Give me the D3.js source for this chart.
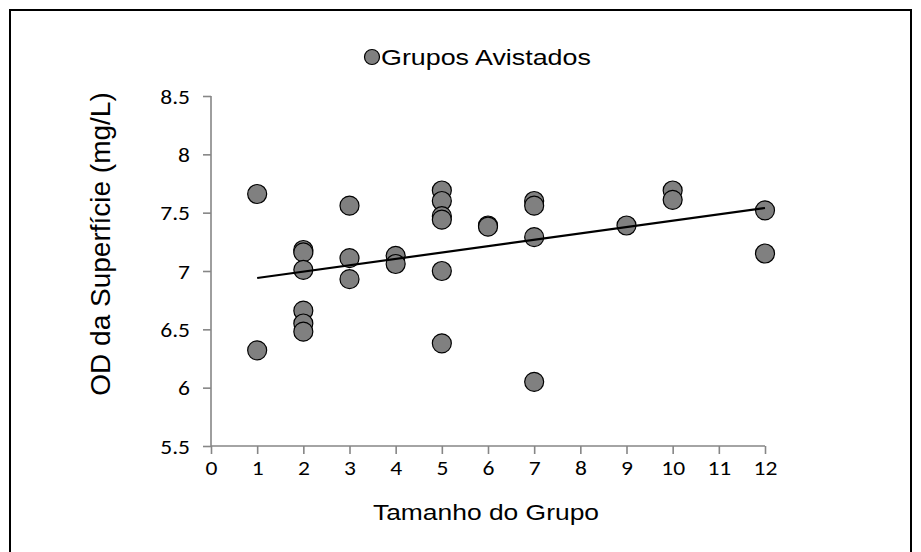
<!DOCTYPE html>
<html>
<head>
<meta charset="utf-8">
<script src="https://cdn.jsdelivr.net/npm/d3@7"></script>
<style>
  html, body { margin: 0; padding: 0; background: #fff; }
  svg { display: block; }
</style>
</head>
<body>
<div id="chart"></div>
<script>
// group size (x) and surface dissolved oxygen (y)
const groupSize = [1, 1, 2, 2, 2, 2, 2, 2, 3, 3, 3, 4, 4, 5, 5, 5, 5, 5, 5, 6, 6, 7, 7, 7, 7, 9, 10, 10, 12, 12];
const odValues  = [7.66, 6.32, 7.18, 7.16, 7.01, 6.66, 6.55, 6.48, 7.56, 7.11, 6.93, 7.13, 7.06,
                   7.69, 7.60, 7.47, 7.44, 7.00, 6.38, 7.39, 7.38, 7.60, 7.56, 7.29, 6.05, 7.39, 7.69, 7.61, 7.52, 7.15];
// linear trendline endpoints as drawn
const trendX = [1, 12];
const trendY = [6.94, 7.54];
const xTicks = d3.range(0, 13, 1);
const yTicks = [5.5, 6, 6.5, 7, 7.5, 8, 8.5];
const seriesName = "Grupos Avistados";
const xTitle = "Tamanho do Grupo";
const yTitle = "OD da Superfície (mg/L)";

const width = 921, height = 552;
const margin = { left: 211, right: 156, top: 96, bottom: 106 };
const axisColor = "#868686";
const tickFont = "Carlito, Calibri, 'Liberation Sans', Arial, sans-serif";
const titleFont = "'Liberation Sans', Arial, sans-serif";

// the original picture is a bit wider than tall, text looks stretched sideways
function widen(sel, k) {
  sel.each(function () {
    const len = this.getComputedTextLength();
    d3.select(this).attr("textLength", len * k).attr("lengthAdjust", "spacingAndGlyphs");
  });
}

const svg = d3.select("#chart").append("svg")
  .attr("width", width).attr("height", height);

// outer frame
svg.append("rect").attr("x", 10).attr("y", 10).attr("width", 901).attr("height", 560)
  .attr("fill", "none").attr("stroke", "#000").attr("stroke-width", 2);

const x = d3.scaleLinear().domain([0, 12]).range([margin.left, width - margin.right]);
const y = d3.scaleLinear().domain([5.5, 8.5]).range([height - margin.bottom, margin.top]);

// axes
const xAxis = svg.append("g").attr("transform", `translate(0,${y(5.5)})`)
  .call(d3.axisBottom(x).tickValues(xTicks).tickSize(8).tickPadding(6).tickFormat(d3.format("d")));
const yAxis = svg.append("g").attr("transform", `translate(${x(0)},0)`)
  .call(d3.axisLeft(y).tickValues(yTicks).tickSize(8).tickPadding(13).tickFormat(d => d));

[xAxis, yAxis].forEach(g => {
  g.select(".domain").attr("stroke", axisColor).attr("stroke-width", 1.6);
  g.selectAll(".tick line").attr("stroke", axisColor).attr("stroke-width", 1.6);
  g.selectAll(".tick text").attr("fill", "#000").attr("font-size", "21px").attr("font-family", tickFont);
  widen(g.selectAll(".tick text"), 1.12);
});
xAxis.select(".domain").attr("d", `M${x(0)},0H${x(12)}`);
yAxis.select(".domain").attr("d", `M0,${y(8.5)}V${y(5.5)}`);
yAxis.selectAll(".tick text").attr("dy", "0.34em");

// points
const pts = groupSize.map((g, i) => ({ g, v: odValues[i] }));
svg.append("g").selectAll("circle").data(pts).join("circle")
  .attr("cx", d => x(d.g)).attr("cy", d => y(d.v)).attr("r", 9.5)
  .attr("fill", "#808080").attr("stroke", "#000").attr("stroke-width", 1.2);

// trendline
svg.append("path")
  .datum(trendX.map((t, i) => [t, trendY[i]]))
  .attr("fill", "none").attr("stroke", "#000").attr("stroke-width", 2.2)
  .attr("d", d3.line().x(d => x(d[0])).y(d => y(d[1])));

// legend
const legend = svg.append("g").attr("transform", "translate(372,57)");
legend.append("circle").attr("r", 7.5).attr("fill", "#808080").attr("stroke", "#000").attr("stroke-width", 1.2);
legend.append("text").attr("x", 9).attr("dy", "0.36em")
  .attr("font-size", "22px").attr("font-family", titleFont).attr("fill", "#000").text(seriesName)
  .call(widen, 1.22);

// axis titles
svg.append("text").attr("x", (x(0) + x(12)) / 2 - 2).attr("y", 520)
  .attr("text-anchor", "middle").attr("font-size", "22px").attr("font-family", titleFont)
  .attr("fill", "#000").text(xTitle)
  .call(widen, 1.2);
svg.append("text")
  .attr("transform", "translate(110,244) rotate(-90)")
  .attr("text-anchor", "middle").attr("font-size", "28px").attr("font-family", titleFont)
  .attr("fill", "#000").text(yTitle);
</script>
</body>
</html>
